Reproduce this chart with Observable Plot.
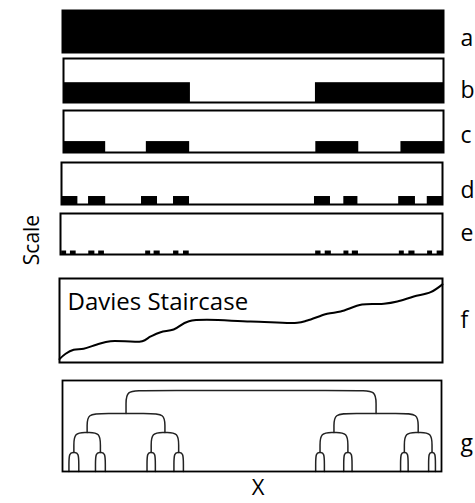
<!DOCTYPE html>
<html>
<head>
<meta charset="utf-8">
<script src="https://cdn.jsdelivr.net/npm/d3@7"></script>
<script src="https://cdn.jsdelivr.net/npm/@observablehq/plot@0.6"></script>
<style>
  html, body { margin: 0; padding: 0; background: #fff; }
  #fig { position: relative; width: 475px; height: 503px; font-family: "Open Sans", sans-serif; overflow: hidden; }
  #scaleLabel { position: absolute; left: 31px; top: 240px; transform: translate(-50%, -50%) rotate(-90deg); font-size: 21px; white-space: nowrap; color: #000; }
</style>
</head>
<body>
<div id="fig"><div id="scaleLabel">Scale</div></div>
<script>
// ---------------- data ----------------
const panelLabels = ["a", "b", "c", "d", "e", "f", "g"];
const axisLabelX = "X";
const axisLabelY = "Scale";
const stairTitle = "Davies Staircase";

// Cantor-set intervals (fraction of panel width) for panels a..e
const barsA = [[0, 1]];
const barsB = [[0, 0.334], [0.663, 1]];
const barsC = [[0, 0.111], [0.218, 0.332], [0.664, 0.777], [0.888, 1]];
const barsD = [[0, 0.043], [0.071, 0.116], [0.21, 0.252], [0.294, 0.336],
               [0.664, 0.706], [0.741, 0.778], [0.885, 0.929], [0.96, 1]];
const barsE = [[0.003, 0.016], [0.026, 0.041], [0.074, 0.09], [0.1, 0.115],
               [0.223, 0.236], [0.245, 0.261], [0.296, 0.31], [0.322, 0.337],
               [0.668, 0.682], [0.693, 0.709], [0.742, 0.755], [0.764, 0.78],
               [0.887, 0.9], [0.912, 0.928], [0.961, 0.974], [0.986, 1]];
// bar height as a fraction of the panel height
const barHeights = [1, 0.45, 0.26, 0.19, 0.085];

// Devil's staircase curve (fraction of panel width / height)
const stairX = [0, 0.016, 0.037, 0.063, 0.098, 0.133, 0.216, 0.238, 0.264, 0.298, 0.338,
                0.499, 0.621, 0.647, 0.699, 0.734, 0.79, 0.847, 0.882, 0.925, 0.969, 1];
const stairY = [0.04, 0.104, 0.151, 0.163, 0.214, 0.254, 0.254, 0.31, 0.361, 0.393, 0.492,
                0.488, 0.473, 0.5, 0.58, 0.607, 0.69, 0.699, 0.726, 0.786, 0.837, 0.93];

// Dendrogram leaves (fraction of panel width) and merge heights (panel units, 0..91)
const leafX = [0.017, 0.043, 0.087, 0.113, 0.223, 0.245, 0.294, 0.319,
               0.668, 0.691, 0.742, 0.764, 0.892, 0.912, 0.966, 0.984];
const mergeHeights = [19, 39, 58, 81];
const dendroTop = 91;

// ---------------- layout ----------------
const W = 475;
const boxes = {
  a: {left: 62, right: 443, top: 10, bottom: 52, labelDy: 7},
  b: {left: 63, right: 443, top: 58, bottom: 102, labelDy: 10},
  c: {left: 63, right: 443, top: 110, bottom: 152, labelDy: 4},
  d: {left: 61, right: 442, top: 162, bottom: 204, labelDy: 7},
  e: {left: 60, right: 442, top: 213, bottom: 254, labelDy: 0},
  f: {left: 59, right: 442, top: 278, bottom: 362, labelDy: 0},
  g: {left: 62, right: 441, top: 380, bottom: 471, labelDy: 18, extraBottom: 29}
};
const labelX = 460;
const fig = document.getElementById("fig");

function addPanel(key, marks, yDomain) {
  const box = boxes[key];
  const m = 3;
  const extra = box.extraBottom || 0;
  const plot = Plot.plot({
    width: W,
    height: (box.bottom - box.top) + 2 * m + extra,
    marginTop: m, marginBottom: m + extra,
    marginLeft: box.left, marginRight: W - box.right,
    x: {domain: [0, 1], axis: null},
    y: {domain: yDomain, axis: null},
    style: {background: "transparent", fontFamily: "Open Sans, sans-serif"},
    marks: [
      ...marks,
      Plot.text([key], {text: d => d, frameAnchor: "right", textAnchor: "start",
        dx: labelX - box.right, dy: box.labelDy, fontSize: 23, fill: "black"})
    ]
  });
  plot.style.position = "absolute";
  plot.style.left = "0px";
  plot.style.top = (box.top - m) + "px";
  fig.appendChild(plot);
}

// Cantor panels a..e
const barSets = [barsA, barsB, barsC, barsD, barsE];
barSets.forEach((set, i) => {
  const rows = set.map(([x1, x2]) => ({x1, x2, y1: 0, y2: barHeights[i]}));
  addPanel(panelLabels[i], [
    Plot.rect(rows, {x1: "x1", x2: "x2", y1: "y1", y2: "y2", fill: "black"}),
    Plot.frame({stroke: "black", strokeWidth: 2})
  ], [0, 1]);
});

// Staircase panel f
const stair = stairX.map((x, i) => ({x, y: stairY[i]}));
addPanel("f", [
  Plot.line(stair, {x: "x", y: "y", curve: "catmull-rom", stroke: "black", strokeWidth: 2}),
  Plot.text([stairTitle], {text: d => d, frameAnchor: "top-left", textAnchor: "start",
    lineAnchor: "top", dx: 8, dy: 14, fontSize: 24, fill: "black"}),
  Plot.frame({stroke: "black", strokeWidth: 2})
], [0, 1]);

// Dendrogram panel g
let nodes = leafX.map(x => ({x, h: 0}));
const bracketPts = [];
let bid = 0;
for (const H of mergeHeights) {
  const next = [];
  for (let i = 0; i < nodes.length; i += 2) {
    const L = nodes[i], R = nodes[i + 1];
    const rx = Math.min(0.045, (R.x - L.x) / 2);
    const ry = Math.min(14, (H - Math.max(L.h, R.h)) * 0.7);
    const pts = [[L.x, L.h], [L.x, H - ry], [L.x, H], [L.x + rx, H],
                 [R.x - rx, H], [R.x, H], [R.x, H - ry], [R.x, R.h]];
    pts.forEach(([x, y]) => bracketPts.push({id: bid, x, y}));
    bid++;
    next.push({x: (L.x + R.x) / 2, h: H});
  }
  nodes = next;
}
addPanel("g", [
  Plot.line(bracketPts, {x: "x", y: "y", curve: "basis", z: "id", stroke: "#222", strokeWidth: 1.5}),
  Plot.frame({stroke: "black", strokeWidth: 1.8}),
  Plot.text([axisLabelX], {text: d => d, frameAnchor: "bottom", dx: 6, dy: 16,
    lineAnchor: "middle", fontSize: 22, fill: "black"})
], [0, dendroTop]);

document.getElementById("scaleLabel").textContent = axisLabelY;
</script>
</body>
</html>
